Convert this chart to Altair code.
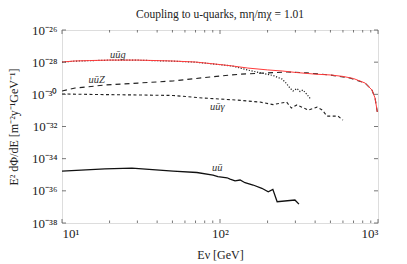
import altair as alt
import pandas as pd

# ---- data ----
red_E = [10, 12, 15, 20, 30, 50, 70, 100, 120, 150, 200, 250, 300, 400, 500, 600, 700, 830, 916, 958, 990]
red_v = [1.02e-28, 1.18e-28, 1.26e-28, 1.35e-28, 1.35e-28, 1.18e-28, 1.02e-28, 7.1e-29, 5.8e-29, 4.3e-29,
         3.3e-29, 2.8e-29, 2.3e-29, 1.8e-29, 1.6e-29, 1.3e-29, 9.6e-30, 5.0e-30, 1.85e-30, 5.9e-31, 8.0e-32]

dot_E = [10, 12, 15, 20, 30, 50, 70, 100, 120, 155, 179, 217, 247, 262, 277, 290, 307, 321, 335, 355, 372]
dot_v = [1.0e-28, 1.16e-28, 1.24e-28, 1.33e-28, 1.33e-28, 1.16e-28, 1.0e-28, 7.0e-29, 5.7e-29, 3.0e-29,
         2.2e-29, 1.48e-29, 8.9e-30, 5.0e-30, 2.45e-30, 1.62e-30, 2.3e-30, 1.5e-30, 1.86e-30, 9.8e-31, 5.5e-31]

z_E = [10, 12.1, 18.7, 30.3, 50.5, 86.4, 134, 198, 269, 355, 497, 665, 830, 916, 958, 990]
z_v = [1.62e-30, 2.45e-30, 3.8e-30, 5.0e-30, 6.8e-30, 1.2e-29, 1.8e-29, 2.15e-29, 2.45e-29, 2.15e-29,
       1.6e-29, 1.03e-29, 5.0e-30, 1.85e-30, 5.9e-31, 8.0e-32]

g_E = [10, 17.4, 31.1, 50.5, 78, 128, 179, 217, 264, 283, 307, 330, 361, 411, 444, 476, 558, 600]
g_v = [1.05e-30, 9.7e-31, 9.1e-31, 8.5e-31, 5.9e-31, 4.4e-31, 3.3e-31, 2.3e-31, 3.3e-31, 1.4e-31,
       2.2e-31, 1.6e-31, 1.05e-31, 1.6e-31, 1.05e-31, 4.4e-32, 4.4e-32, 2.5e-32]

uu_E = [10, 18.7, 27.7, 50.5, 71.4, 90.3, 97, 110.8, 115.8, 124.5, 134, 144, 162, 184, 202, 216, 230, 298, 316]
uu_v = [1.7e-35, 2.3e-35, 2.6e-35, 1.7e-35, 1.38e-35, 9.5e-36, 7.7e-36, 6.5e-36, 5.4e-36, 4.2e-36,
        4.7e-36, 3.2e-36, 2.3e-36, 1.44e-36, 8.8e-37, 1.23e-36, 2.1e-37, 2.7e-37, 1.5e-37]

lab_text = ["uūg", "uūZ", "uūγ", "uū"]
lab_E = [22.6, 16.6, 96, 96]
lab_v = [2.8e-28, 7.8e-30, 1.6e-31, 2.6e-35]

title_text = "Coupling to u-quarks, mη/mχ = 1.01"

x_major = [10, 100, 1000]
x_minor = [20, 30, 40, 50, 60, 70, 80, 90, 200, 300, 400, 500, 600, 700, 800, 900]
y_major_exp = [-26, -28, -30, -32, -34, -36, -38]

W, H = 316, 193
FONT = "Liberation Serif"
FRAME = "#555555"

SUP = str.maketrans("-0123456789", "⁻⁰¹²³⁴⁵⁶⁷⁸⁹")

def sup(n):
    return str(n).translate(SUP)

y_vals = [10.0 ** e for e in y_major_exp]
y_expr = ""
for e in y_major_exp:
    y_expr += f"datum.value > {10.0 ** (e - 1)} ? '10{sup(e)}' : "
y_expr += "''"
x_expr = "datum.value < 50 ? '10¹' : datum.value < 500 ? '10²' : '10³'"

xs = alt.Scale(type="log", domain=[10, 1000], nice=False)
ys = alt.Scale(type="log", domain=[1e-38, 1e-26], nice=False)


def series(E, v):
    return pd.DataFrame({"E": E, "v": v})


def line(df, color, dash=None, width=1.0, axes=False):
    kw = dict(color=color, strokeWidth=width, clip=True)
    if dash:
        kw["strokeDash"] = dash
    if axes:
        xa = alt.X("E:Q", scale=xs, axis=alt.Axis(
            values=x_major, labelExpr=x_expr, ticks=False, domain=False, grid=False,
            title="Eν [GeV]", labelFont=FONT, titleFont=FONT, labelFontSize=13, titleFontSize=12,
            titleFontWeight="normal", labelPadding=4, titlePadding=9, labelColor="#222", titleColor="#222"))
        ya = alt.Y("v:Q", scale=ys, axis=alt.Axis(
            values=y_vals, labelExpr=y_expr, ticks=False, domain=False, grid=False,
            title="E² dΦ/dE [m⁻²y⁻¹GeV⁻¹]", labelFont=FONT, titleFont=FONT, labelFontSize=13,
            titleFontSize=12, titleFontWeight="normal", labelPadding=5, titlePadding=11,
            labelColor="#222", titleColor="#222"))
    else:
        xa = alt.X("E:Q", scale=xs)
        ya = alt.Y("v:Q", scale=ys)
    return alt.Chart(df).mark_line(**kw).encode(x=xa, y=ya)


dot = line(series(dot_E, dot_v), "#222222", [1.2, 1.6], 1.2, axes=True)
zl = line(series(z_E, z_v), "#222222", [5, 4], 1.1)
gl = line(series(g_E, g_v), "#222222", [3, 2.5], 1.1)
uul = line(series(uu_E, uu_v), "#111111", None, 1.3)
red = line(series(red_E, red_v), "#ff3b3b", None, 1.0)

labels = alt.Chart(pd.DataFrame({"t": lab_text, "E": lab_E, "v": lab_v})).mark_text(
    font=FONT, fontStyle="italic", fontSize=10.5, color="#333"
).encode(x=alt.X("E:Q", scale=xs), y=alt.Y("v:Q", scale=ys), text="t:N")

title = alt.Chart(pd.DataFrame({"t": [title_text]})).mark_text(
    font=FONT, fontSize=11.5, color="#222", baseline="middle", align="center"
).encode(x=alt.value(W / 2), y=alt.value(-15), text="t:N")


def xticks(vals, length):
    df = pd.DataFrame({"E": vals})
    bot = alt.Chart(df).mark_rule(color=FRAME, strokeWidth=0.8).encode(
        x=alt.X("E:Q", scale=xs), y=alt.value(H), y2=alt.value(H - length))
    top = alt.Chart(df).mark_rule(color=FRAME, strokeWidth=0.8).encode(
        x=alt.X("E:Q", scale=xs), y=alt.value(0), y2=alt.value(length))
    return bot + top


def yticks(vals, length):
    df = pd.DataFrame({"v": vals})
    left = alt.Chart(df).mark_rule(color=FRAME, strokeWidth=0.8).encode(
        y=alt.Y("v:Q", scale=ys), x=alt.value(0), x2=alt.value(length))
    right = alt.Chart(df).mark_rule(color=FRAME, strokeWidth=0.8).encode(
        y=alt.Y("v:Q", scale=ys), x=alt.value(W), x2=alt.value(W - length))
    return left + right


chart = alt.layer(
    dot, zl, gl, uul, red, labels, title,
    xticks(x_major, 4), xticks(x_minor, 2.5), yticks(y_vals, 4),
).properties(
    width=W, height=H,
    autosize=alt.AutoSizeParams(type="none"),
    padding={"left": 54, "top": 22, "right": 21, "bottom": 45},
).configure_view(stroke=FRAME, strokeWidth=1.2).configure(background="white")

chart.save("out.html", embed_options={"renderer": "svg", "actions": False})
